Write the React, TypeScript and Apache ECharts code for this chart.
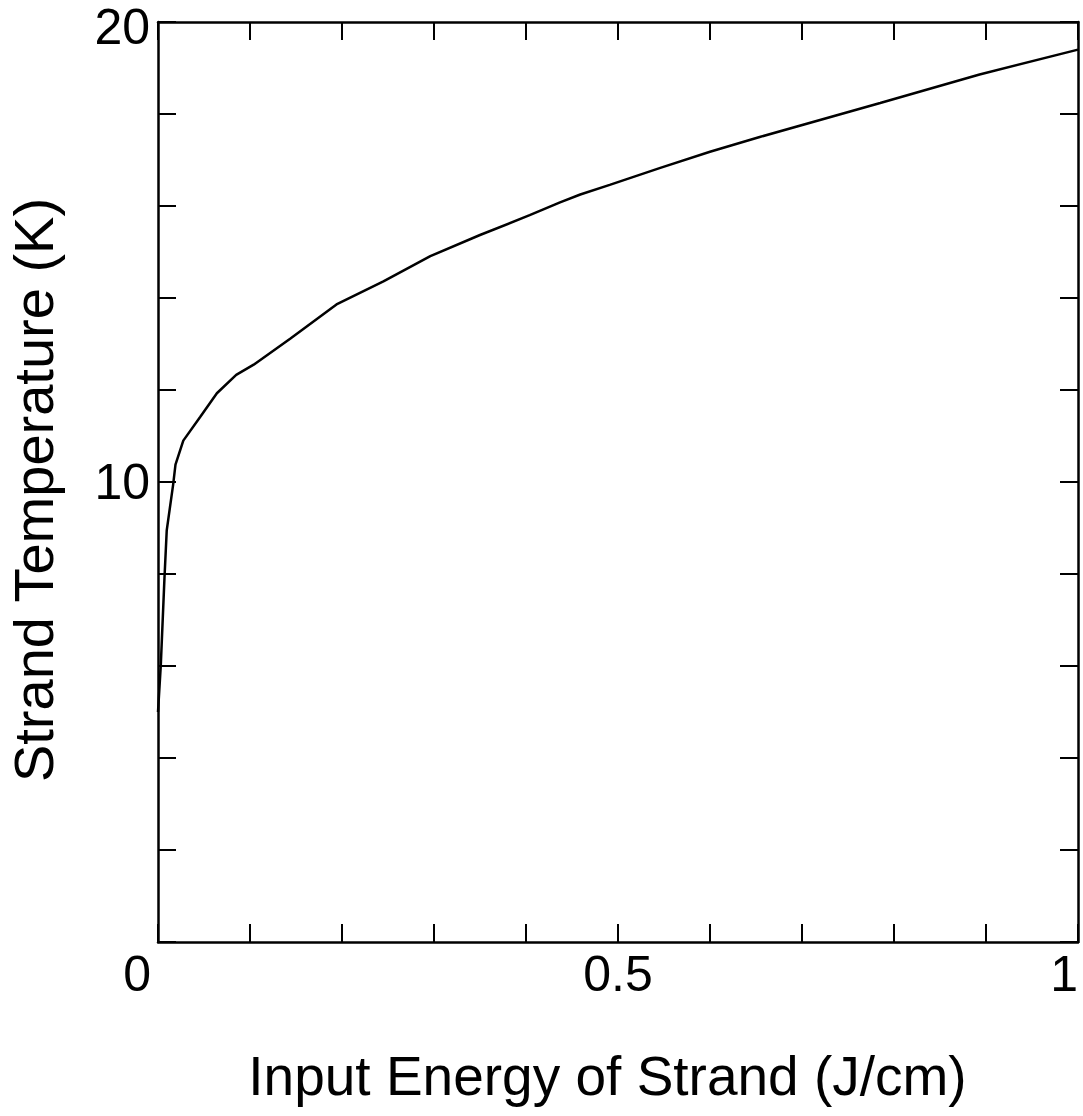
import React, { useEffect, useRef } from "react";
import * as echarts from "echarts";

// Input energy of strand (J/cm)
const energy = [
  0, 0.003, 0.007, 0.0095, 0.0165, 0.019, 0.0275, 0.046, 0.064, 0.085, 0.104,
  0.144, 0.194, 0.245, 0.296, 0.35, 0.404, 0.437, 0.459, 0.491, 0.546, 0.6,
  0.654, 0.785, 0.893, 1.0,
];
// Strand temperature (K)
const temperature = [
  5.0, 6.0, 7.9, 8.95, 9.95, 10.38, 10.9, 11.42, 11.93, 12.33, 12.55, 13.12,
  13.86, 14.36, 14.91, 15.37, 15.8, 16.08, 16.25, 16.46, 16.83, 17.18, 17.5,
  18.24, 18.86, 19.4,
];

const xTickLabels = ["0", "0.5", "1"];
const yTickLabels = ["10", "20"];

const FONT = "'Liberation Sans', Arial, Helvetica, sans-serif";

export default function App() {
  const ref = useRef<HTMLDivElement>(null);

  useEffect(() => {
    if (!ref.current) return;
    const chart = echarts.init(ref.current, undefined, { renderer: "svg" });

    const fmtX = (v: number) => {
      const hit = xTickLabels.find((t) => Math.abs(parseFloat(t) - v) < 1e-9);
      if (hit === undefined) return "";
      return v === 0 ? "{z|" + hit + "}" : hit;
    };
    const fmtY = (v: number) => {
      const hit = yTickLabels.find((t) => Math.abs(parseFloat(t) - v) < 1e-9);
      if (hit === undefined) return "";
      return v === 20 ? "{t|" + hit + "}" : hit;
    };

    const axisLine = {
      show: true,
      onZero: false,
      lineStyle: { color: "#000", width: 2.5 },
    };
    const axisTick = {
      show: true,
      inside: true,
      length: 18,
      lineStyle: { color: "#000", width: 2 },
    };

    chart.setOption({
      animation: false,
      backgroundColor: "#fff",
      grid: {
        left: 158,
        top: 22,
        width: 920,
        height: 920,
        containLabel: false,
        outerBoundsMode: "none",
      },
      xAxis: [
        {
          type: "value",
          min: 0,
          max: 1,
          interval: 0.1,
          position: "bottom",
          axisLine,
          axisTick,
          splitLine: { show: false },
          axisLabel: {
            formatter: fmtX,
            color: "#000",
            fontFamily: FONT,
            fontSize: 50,
            lineHeight: 44,
            margin: 10,
            alignMinLabel: "right",
            alignMaxLabel: "right",
            showMinLabel: true,
            showMaxLabel: true,
            rich: {
              z: {
                color: "#000",
                fontFamily: FONT,
                fontSize: 50,
                lineHeight: 44,
                padding: [0, 7, 0, 0],
              },
            },
          },
          name: "Input Energy of Strand (J/cm)",
          nameLocation: "middle",
          nameGap: 106,
          nameTextStyle: {
            color: "#000",
            fontFamily: FONT,
            fontSize: 55,
            padding: [0, 21, 0, 0],
          },
        },
        {
          type: "value",
          min: 0,
          max: 1,
          interval: 0.1,
          position: "top",
          axisLine,
          axisTick,
          splitLine: { show: false },
          axisLabel: { show: false },
        },
      ],
      yAxis: [
        {
          type: "value",
          min: 0,
          max: 20,
          interval: 2,
          position: "left",
          axisLine,
          axisTick,
          splitLine: { show: false },
          axisLabel: {
            formatter: fmtY,
            color: "#000",
            fontFamily: FONT,
            fontSize: 50,
            lineHeight: 40,
            margin: 8,
            showMinLabel: true,
            showMaxLabel: true,
            rich: {
              t: {
                color: "#000",
                fontFamily: FONT,
                fontSize: 50,
                lineHeight: 40,
                padding: [10, 0, 0, 0],
              },
            },
          },
          name: "Strand Temperature (K)",
          nameLocation: "middle",
          nameGap: 97,
          nameTextStyle: {
            color: "#000",
            fontFamily: FONT,
            fontSize: 56,
            padding: [0, 16, 0, 0],
          },
        },
        {
          type: "value",
          min: 0,
          max: 20,
          interval: 2,
          position: "right",
          axisLine,
          axisTick,
          splitLine: { show: false },
          axisLabel: { show: false },
        },
      ],
      series: [
        {
          type: "line",
          xAxisIndex: 0,
          yAxisIndex: 0,
          data: energy.map((x, i) => [x, temperature[i]]),
          showSymbol: false,
          symbol: "none",
          smooth: false,
          lineStyle: { color: "#000", width: 2.5 },
        },
      ],
    });

    return () => chart.dispose();
  }, []);

  return (
    <div
      ref={ref}
      style={{ position: "fixed", left: 0, top: 0, width: 1083, height: 1116 }}
    />
  );
}
